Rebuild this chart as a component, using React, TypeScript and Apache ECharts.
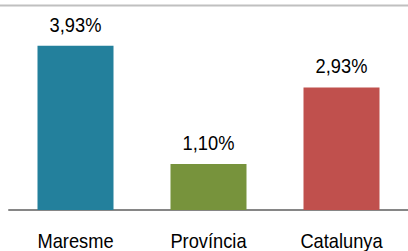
import React, { useEffect, useRef } from "react";
import * as echarts from "echarts";

const categories = ["Maresme", "Província", "Catalunya"];
const values = [3.93, 1.1, 2.93];
const barColors = ["#23809C", "#77933C", "#C0504D"];

const FONT = "'Liberation Sans', Arial, sans-serif";
const SCALE_X = 0.87;

export default function App() {
  const ref = useRef<HTMLDivElement>(null);
  useEffect(() => {
    if (!ref.current) return;
    const chart = echarts.init(ref.current, undefined, { renderer: "svg" });
    chart.setOption({
      animation: false,
      backgroundColor: "#ffffff",
      grid: { left: 9, right: 0, top: 1, bottom: 41, containLabel: false },
      xAxis: {
        type: "category",
        data: categories,
        axisLine: { show: true, lineStyle: { color: "#868686", width: 2 } },
        axisTick: { show: false },
        axisLabel: { show: false },
      },
      yAxis: {
        type: "value",
        min: 0,
        max: 5,
        show: false,
        splitLine: { show: false },
      },
      series: [
        {
          type: "bar",
          barWidth: 76,
          data: values.map((v, i) => ({ value: v, itemStyle: { color: barColors[i] } })),
          label: { show: false },
        },
      ],
    });

    const base = chart.convertToPixel({ yAxisIndex: 0 }, 0) as number;
    const graphics: any[] = [
      {
        type: "line",
        shape: { x1: 0, y1: 5.5, x2: 408, y2: 5.5 },
        style: { stroke: "#c0c0c0", lineWidth: 2 },
        silent: true,
      },
    ];
    values.forEach((v, i) => {
      const p = chart.convertToPixel({ seriesIndex: 0 }, [i, v]) as number[];
      graphics.push({
        type: "text",
        x: p[0],
        y: p[1] - 32,
        scaleX: SCALE_X,
        style: {
          text: v.toFixed(2).replace(".", ",") + "%",
          fontFamily: FONT,
          fontSize: 21,
          fill: "#000",
          align: "center",
          verticalAlign: "top",
        },
      });
      graphics.push({
        type: "text",
        x: p[0],
        y: base + 20,
        scaleX: SCALE_X,
        style: {
          text: categories[i],
          fontFamily: FONT,
          fontSize: 21,
          fill: "#000",
          align: "center",
          verticalAlign: "top",
        },
      });
    });
    chart.setOption({ graphic: graphics });
    return () => chart.dispose();
  }, []);
  return (
    <div
      ref={ref}
      style={{ position: "fixed", left: 0, top: 0, width: 408, height: 251 }}
    />
  );
}
